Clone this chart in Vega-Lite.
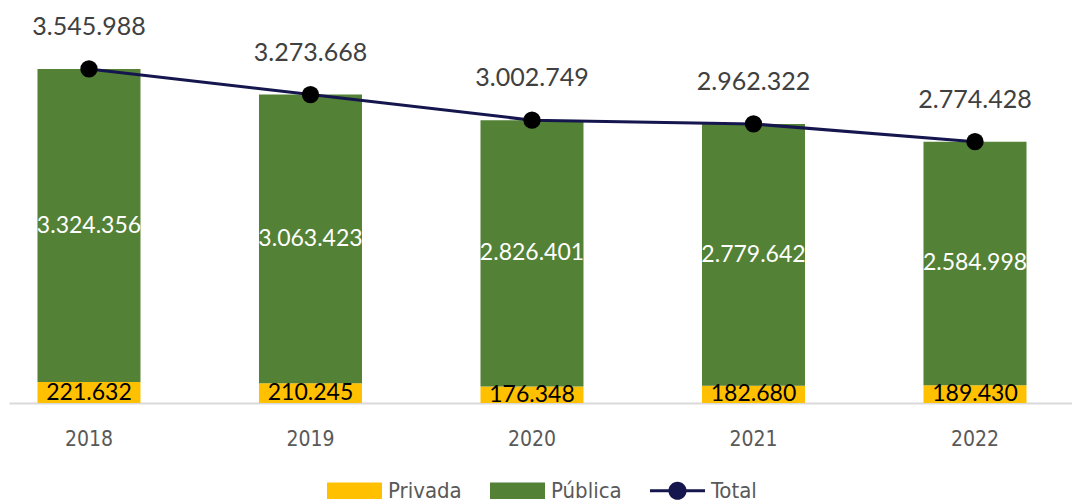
{
  "$schema": "https://vega.github.io/schema/vega-lite/v6.json",
  "width": 1063,
  "height": 403,
  "autosize": "none",
  "padding": {"left": 9, "top": 0, "right": 0, "bottom": 99},
  "config": {
    "view": {"stroke": null},
    "locale": {"number": {"decimal": ",", "thousands": ".", "grouping": [3], "currency": ["", ""]}},
    "axis": {"title": null},
    "legend": {"padding": 0}
  },
  "datasets": {
    "parts": [
      {"year": "2018", "serie": "Privada", "value": 221632},
      {"year": "2018", "serie": "Pública", "value": 3324356},
      {"year": "2019", "serie": "Privada", "value": 210245},
      {"year": "2019", "serie": "Pública", "value": 3063423},
      {"year": "2020", "serie": "Privada", "value": 176348},
      {"year": "2020", "serie": "Pública", "value": 2826401},
      {"year": "2021", "serie": "Privada", "value": 182680},
      {"year": "2021", "serie": "Pública", "value": 2779642},
      {"year": "2022", "serie": "Privada", "value": 189430},
      {"year": "2022", "serie": "Pública", "value": 2584998}
    ],
    "total": [
      {"year": "2018", "serie": "Total", "value": 3545988},
      {"year": "2019", "serie": "Total", "value": 3273668},
      {"year": "2020", "serie": "Total", "value": 3002749},
      {"year": "2021", "serie": "Total", "value": 2962322},
      {"year": "2022", "serie": "Total", "value": 2774428}
    ]
  },
  "layer": [
    {
      "data": {"name": "parts"},
      "mark": {"type": "bar"},
      "encoding": {
        "x": {
          "field": "year", "type": "ordinal",
          "scale": {"paddingInner": 0.535, "paddingOuter": 0.167, "align": 0.385},
          "axis": {"labelAngle": 0, "ticks": false, "domainColor": "#D9D9D9", "domainWidth": 2, "labelPadding": 25, "labelFont": "DejaVu Sans Condensed", "labelFontSize": 21, "labelColor": "#595959", "title": null}
        },
        "y": {"field": "value", "type": "quantitative", "stack": "zero", "scale": {"domain": [0, 4278000], "nice": false}, "axis": null},
        "order": {"field": "serie", "sort": "ascending"},
        "color": {
          "field": "serie", "type": "nominal",
          "scale": {"domain": ["Privada", "Pública", "Total"], "range": ["#FFC000", "#538135", "#16164F"]},
          "legend": {"title": null, "orient": "none", "direction": "horizontal", "legendX": 318, "legendY": 463, "symbolSize": 3025, "labelFont": "DejaVu Sans Condensed", "labelFontSize": 22, "labelColor": "#595959", "labelOffset": 6, "columnPadding": 28, "symbolStrokeWidth": 0, "symbolOpacity": 1}
        }
      }
    },
    {
      "data": {"name": "parts"},
      "transform": [
        {"stack": "value", "groupby": ["year"], "as": ["v0", "v1"], "sort": [{"field": "serie", "order": "ascending"}]},
        {"calculate": "(datum.v0 + datum.v1) / 2", "as": "mid"}
      ],
      "mark": {"type": "text", "font": "Lato", "fontSize": 23, "baseline": "middle", "align": "center"},
      "encoding": {
        "x": {"field": "year", "type": "ordinal"},
        "y": {"field": "mid", "type": "quantitative", "scale": {"domain": [0, 4278000], "nice": false}},
        "text": {"field": "value", "type": "quantitative", "format": ",.0f"},
        "color": {"condition": {"test": "datum.serie === 'Privada'", "value": "#000000"}, "value": "#FFFFFF"}
      }
    },
    {
      "data": {"name": "total"},
      "mark": {"type": "line", "color": "#16164F", "strokeWidth": 3},
      "encoding": {
        "x": {"field": "year", "type": "ordinal"},
        "y": {"field": "value", "type": "quantitative", "scale": {"domain": [0, 4278000], "nice": false}}
      }
    },
    {
      "data": {"name": "total"},
      "mark": {"type": "point", "filled": true, "shape": "circle", "color": "#000000", "opacity": 1, "size": 300},
      "encoding": {
        "x": {"field": "year", "type": "ordinal"},
        "y": {"field": "value", "type": "quantitative", "scale": {"domain": [0, 4278000], "nice": false}}
      }
    },
    {
      "data": {"name": "total"},
      "mark": {"type": "point", "filled": true, "size": 0},
      "encoding": {
        "x": {"field": "year", "type": "ordinal"},
        "y": {"field": "value", "type": "quantitative", "scale": {"domain": [0, 4278000], "nice": false}},
        "color": {
          "field": "serie", "type": "nominal",
          "scale": {"domain": ["Privada", "Pública", "Total"], "range": ["#FFC000", "#538135", "#16164F"]},
          "legend": {"title": null, "orient": "none", "direction": "horizontal", "legendX": 318, "legendY": 463, "symbolSize": 3025, "labelFont": "DejaVu Sans Condensed", "labelFontSize": 22, "labelColor": "#595959", "labelOffset": 6, "columnPadding": 28, "symbolStrokeWidth": 0, "symbolOpacity": 1}
        },
        "shape": {
          "field": "serie", "type": "nominal",
          "scale": {"domain": ["Privada", "Pública", "Total"], "range": ["M-1,-0.3H1V0.3H-1Z", "M-1,-0.3H1V0.3H-1Z", "M-1,-0.055H1V0.055H-1Z M0.33,0A0.33,0.33 0 1,1 -0.33,0A0.33,0.33 0 1,1 0.33,0Z"]},
          "legend": {"title": null, "orient": "none", "direction": "horizontal", "legendX": 318, "legendY": 463, "symbolSize": 3025, "labelFont": "DejaVu Sans Condensed", "labelFontSize": 22, "labelColor": "#595959", "labelOffset": 6, "columnPadding": 28, "symbolStrokeWidth": 0, "symbolOpacity": 1}
        }
      }
    },
    {
      "data": {"name": "total"},
      "mark": {"type": "text", "font": "Lato", "fontSize": 25, "baseline": "middle", "align": "center", "dy": -42, "color": "#404040"},
      "encoding": {
        "x": {"field": "year", "type": "ordinal"},
        "y": {"field": "value", "type": "quantitative", "scale": {"domain": [0, 4278000], "nice": false}},
        "text": {"field": "value", "type": "quantitative", "format": ",.0f"}
      }
    }
  ]
}
